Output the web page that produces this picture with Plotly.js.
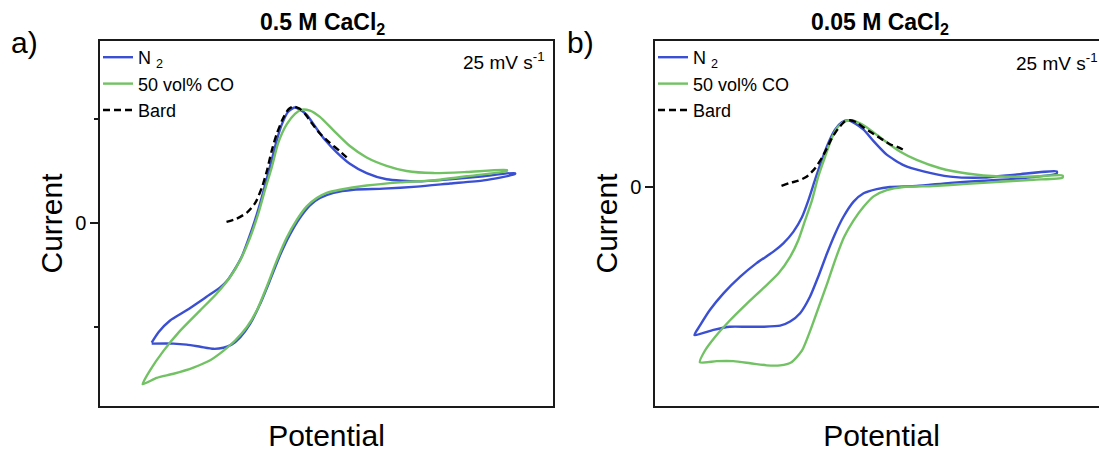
<!DOCTYPE html>
<html>
<head>
<meta charset="utf-8">
<script src="https://cdn.plot.ly/plotly-3.0.1.min.js"></script>
<style>
html,body{margin:0;padding:0;overflow:hidden;background:#fff;width:1099px;height:452px;}
#chart{width:1120px;height:452px;}
</style>
</head>
<body>
<div id="chart"></div>
<script>
// Panel a: 0.5 M CaCl2 (potential / current in arbitrary units)
const potA_N2 = [1.14,1.29,1.54,1.91,2.35,2.65,2.83,2.98,3.13,3.27,3.42,3.57,3.68,3.79,3.90,4.03,4.15,4.29,4.41,4.56,4.74,4.96,5.22,5.51,5.88,6.32,6.99,7.72,8.46,9.15,
  9.15,8.46,7.72,6.99,6.25,5.59,5.15,4.85,4.63,4.41,4.19,3.97,3.75,3.53,3.31,3.09,2.90,2.72,2.50,2.21,1.91,1.62,1.14];
const curA_N2 = [-1.15,-1.05,-0.94,-0.84,-0.71,-0.62,-0.54,-0.44,-0.32,-0.16,0.03,0.25,0.43,0.61,0.80,0.97,1.07,1.11,1.09,1.04,0.93,0.80,0.68,0.57,0.48,0.42,0.40,0.42,0.45,0.48,
  0.47,0.41,0.38,0.35,0.33,0.32,0.29,0.24,0.17,0.05,-0.11,-0.31,-0.55,-0.78,-0.97,-1.10,-1.17,-1.20,-1.21,-1.19,-1.17,-1.16,-1.16];
const potA_CO = [0.94,1.10,1.40,1.76,2.21,2.57,2.87,3.09,3.31,3.49,3.64,3.79,3.93,4.12,4.30,4.45,4.63,4.85,5.15,5.51,5.88,6.32,6.76,7.35,8.09,8.97,
  8.97,8.09,7.35,6.62,5.88,5.29,5.00,4.78,4.56,4.34,4.12,3.90,3.68,3.46,3.24,2.98,2.72,2.43,2.06,1.62,1.25,0.94];
const curA_CO = [-1.55,-1.42,-1.23,-1.04,-0.84,-0.68,-0.52,-0.36,-0.14,0.09,0.32,0.54,0.77,0.95,1.05,1.09,1.08,1.02,0.89,0.74,0.63,0.55,0.50,0.48,0.49,0.51,
  0.50,0.45,0.41,0.39,0.36,0.32,0.29,0.24,0.16,0.03,-0.14,-0.36,-0.61,-0.84,-1.00,-1.13,-1.23,-1.32,-1.39,-1.45,-1.49,-1.55];
const potA_Bard = [2.79,3.01,3.24,3.42,3.57,3.68,3.79,3.90,4.03,4.15,4.26,4.40,4.52,4.67,4.85,5.07,5.29,5.44];
const curA_Bard = [0.01,0.04,0.10,0.19,0.34,0.50,0.70,0.86,1.00,1.09,1.12,1.10,1.05,0.96,0.86,0.77,0.69,0.63];

// Panel b: 0.05 M CaCl2
const potB_N2 = [0.87,0.99,1.21,1.51,1.88,2.24,2.61,2.83,3.05,3.24,3.38,3.53,3.68,3.82,3.97,4.12,4.26,4.41,4.60,4.82,5.11,5.48,5.92,6.51,7.24,7.98,8.86,
  8.86,7.98,7.24,6.51,5.77,5.18,4.89,4.60,4.38,4.15,3.97,3.79,3.60,3.42,3.20,2.98,2.76,2.39,2.02,1.65,1.29,0.87];
const curB_N2 = [-1.42,-1.33,-1.18,-1.02,-0.86,-0.73,-0.62,-0.54,-0.43,-0.29,-0.13,0.07,0.26,0.42,0.55,0.62,0.64,0.61,0.55,0.44,0.31,0.21,0.15,0.10,0.09,0.12,0.15,
  0.13,0.08,0.06,0.04,0.01,0.00,-0.02,-0.06,-0.14,-0.29,-0.45,-0.64,-0.86,-1.05,-1.21,-1.29,-1.33,-1.34,-1.34,-1.34,-1.37,-1.42];
const potB_CO = [0.99,1.10,1.32,1.65,2.02,2.39,2.72,2.98,3.16,3.31,3.46,3.60,3.75,3.90,4.04,4.19,4.34,4.52,4.74,5.04,5.40,5.77,6.29,6.88,7.61,8.35,8.99,
  8.99,8.35,7.61,6.88,6.14,5.48,5.11,4.82,4.60,4.38,4.17,3.99,3.81,3.62,3.43,3.24,3.01,2.76,2.46,2.10,1.73,1.36,0.99];
const curB_CO = [-1.68,-1.57,-1.44,-1.28,-1.12,-0.97,-0.83,-0.67,-0.51,-0.32,-0.13,0.10,0.29,0.47,0.58,0.63,0.64,0.61,0.55,0.45,0.34,0.26,0.18,0.13,0.10,0.10,0.11,
  0.09,0.07,0.05,0.03,0.01,0.00,-0.03,-0.09,-0.19,-0.32,-0.48,-0.68,-0.91,-1.14,-1.37,-1.57,-1.68,-1.71,-1.71,-1.69,-1.67,-1.67,-1.68];
const potB_Bard = [2.79,2.98,3.16,3.35,3.53,3.68,3.79,3.90,4.04,4.19,4.30,4.45,4.60,4.78,4.96,5.18,5.37,5.51];
const curB_Bard = [0.01,0.04,0.06,0.10,0.18,0.28,0.37,0.47,0.56,0.63,0.64,0.62,0.57,0.52,0.47,0.41,0.38,0.35];

const seriesNames = ['N <sub>2</sub>', '50 vol% CO', 'Bard'];
const panelTitles = ['0.5 M CaCl<sub>2</sub>', '0.05 M CaCl<sub>2</sub>'];
const panelLabels = ['a)', 'b)'];
const rateLabel = '25 mV s<sup>-1</sup>';
const xLabel = 'Potential';
const yLabel = 'Current';

const BLUE = '#3a4fd1', GREEN = '#72c264';
const FONT = 'Arial, "Liberation Sans", sans-serif';
const W = 1120, H = 452;

function line(x, y, name, color, dash, xa, ya, leg) {
  return {
    x: x, y: y, name: name, type: 'scatter', mode: 'lines',
    line: {color: color, width: 2.4, dash: dash, shape: 'spline', smoothing: 0.6},
    xaxis: xa, yaxis: ya, legend: leg, hoverinfo: 'skip'
  };
}

const data = [
  line(potA_N2, curA_N2, seriesNames[0], BLUE, 'solid', 'x', 'y', 'legend'),
  line(potA_CO, curA_CO, seriesNames[1], GREEN, 'solid', 'x', 'y', 'legend'),
  line(potA_Bard, curA_Bard, seriesNames[2], '#000', '7px,4px', 'x', 'y', 'legend'),
  line(potB_N2, curB_N2, seriesNames[0], BLUE, 'solid', 'x2', 'y2', 'legend2'),
  line(potB_CO, curB_CO, seriesNames[1], GREEN, 'solid', 'x2', 'y2', 'legend2'),
  line(potB_Bard, curB_Bard, seriesNames[2], '#000', '7px,4px', 'x2', 'y2', 'legend2')
];

const yDom = [1 - 406/H, 1 - 41/H];
const xDomA = [100/W, 553/W], xDomB = [655/W, 1108/W];

function xax(dom, anchor) {
  return {
    domain: dom, anchor: anchor, range: [0, 9.99],
    showline: true, mirror: true, linecolor: '#1a1a1a', linewidth: 1.6,
    showgrid: false, zeroline: false, ticks: '', showticklabels: false,
    title: {text: xLabel, font: {family: FONT, size: 30, color: '#000'}, standoff: 20}
  };
}
function yax(range, anchor, minor) {
  const o = {
    domain: yDom, anchor: anchor, range: range,
    showline: true, mirror: true, linecolor: '#1a1a1a', linewidth: 1.6,
    showgrid: false, zeroline: false,
    ticks: 'outside', ticklen: 8, tickwidth: 1.3, tickcolor: '#1a1a1a',
    tick0: 0, dtick: minor ? 2 : 5,
    tickfont: {family: FONT, size: 20, color: '#000'},
    title: {text: yLabel, font: {family: FONT, size: 30, color: '#000'}, standoff: 4}
  };
  if (minor) o.minor = {dtick: 1, ticks: 'outside', ticklen: 4, tickwidth: 1.3, tickcolor: '#1a1a1a', showgrid: false};
  return o;
}

const legendBase = {
  yanchor: 'top', xanchor: 'left', bgcolor: 'rgba(0,0,0,0)', borderwidth: 0,
  font: {family: FONT, size: 18, color: '#000'}, tracegroupgap: 0, itemwidth: 30
};

const layout = {
  width: W, height: H,
  margin: {l: 0, r: 0, t: 0, b: 0},
  paper_bgcolor: '#fff', plot_bgcolor: '#fff',
  showlegend: true,
  xaxis: xax(xDomA, 'y'),
  yaxis: yax([-1.76, 1.75], 'x', true),
  xaxis2: xax(xDomB, 'y2'),
  yaxis2: yax([-2.10, 1.40], 'x2', false),
  legend: Object.assign({x: 98/W, y: 1 - 39/H}, legendBase),
  legend2: Object.assign({x: 653/W, y: 1 - 39/H}, legendBase),
  annotations: [
    {text: '<b>' + panelTitles[0] + '</b>', x: 322/W, y: 1 - 23/H, xref: 'paper', yref: 'paper', showarrow: false,
     xanchor: 'center', yanchor: 'middle', font: {family: FONT, size: 23, color: '#000'}},
    {text: '<b>' + panelTitles[1] + '</b>', x: 880/W, y: 1 - 23/H, xref: 'paper', yref: 'paper', showarrow: false,
     xanchor: 'center', yanchor: 'middle', font: {family: FONT, size: 23, color: '#000'}},
    {text: panelLabels[0], x: 9/W, y: 1 - 42/H, xref: 'paper', yref: 'paper', showarrow: false,
     xanchor: 'left', yanchor: 'middle', font: {family: FONT, size: 30, color: '#000'}},
    {text: panelLabels[1], x: 565/W, y: 1 - 42/H, xref: 'paper', yref: 'paper', showarrow: false,
     xanchor: 'left', yanchor: 'middle', font: {family: FONT, size: 30, color: '#000'}},
    {text: rateLabel, x: 547/W, y: 1 - 61/H, xref: 'paper', yref: 'paper', showarrow: false,
     xanchor: 'right', yanchor: 'middle', font: {family: FONT, size: 19, color: '#000'}},
    {text: rateLabel, x: 1100/W, y: 1 - 62/H, xref: 'paper', yref: 'paper', showarrow: false,
     xanchor: 'right', yanchor: 'middle', font: {family: FONT, size: 19, color: '#000'}}
  ]
};

Plotly.newPlot('chart', data, layout, {displayModeBar: false, staticPlot: true});
</script>
</body>
</html>
